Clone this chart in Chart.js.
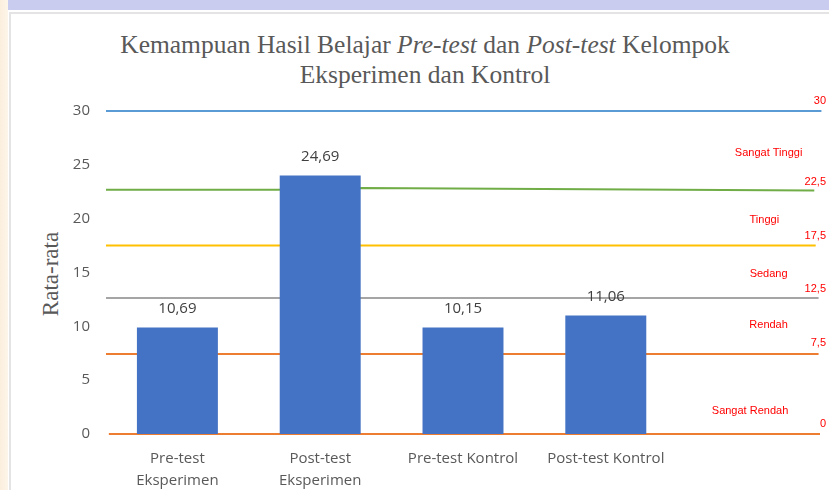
<!DOCTYPE html>
<html>
<head>
<meta charset="utf-8">
<script src="https://cdn.jsdelivr.net/npm/chart.js@4.4.1/dist/chart.umd.min.js"></script>
<style>
  html, body { margin:0; padding:0; }
  body { width:829px; height:490px; overflow:hidden; position:relative; background:#ffffff; }
  #topstrip { position:absolute; left:0; top:0; width:829px; height:10px; background:#c9ccef; }
  #leftstrip { position:absolute; left:0; top:0; width:8px; height:490px; background:linear-gradient(90deg,#fbeedd,#fdf5ea); }
  #frame { position:absolute; left:9px; top:12px; width:830px; height:490px; border-left:2px solid #e4e4e4; border-top:2px solid #e4e4e4; background:#fff; }
  #title { position:absolute; left:0; top:30px; width:850px; text-align:center; font-family:'Liberation Serif','DejaVu Serif',serif; font-size:25.5px; line-height:30px; color:#595959; }
  #ytitle { position:absolute; left:51px; top:274px; transform:translate(-50%,-50%) rotate(-90deg); font-family:'Liberation Serif',serif; font-size:23px; color:#595959; white-space:nowrap; }
  #wrap { position:absolute; left:0; top:0; width:829px; height:490px; }
</style>
</head>
<body>
<div id="topstrip"></div>
<div id="leftstrip"></div>
<div id="frame"></div>
<div id="title">Kemampuan Hasil Belajar <i>Pre-test</i> dan <i>Post-test</i> Kelompok<br>Eksperimen dan Kontrol</div>
<div id="ytitle">Rata-rata</div>
<div id="wrap"><canvas id="c" width="829" height="490"></canvas></div>
<script>
// ---- data ----
const categories = [["Pre-test", "Eksperimen"], ["Post-test", "Eksperimen"], "Pre-test Kontrol", "Post-test Kontrol", ""];
const barValues = [9.9, 24, 9.9, 11];
const barLabels = ["10,69", "24,69", "10,15", "11,06"];
const yTicks = [0, 5, 10, 15, 20, 25, 30];

// horizontal criteria lines (x in category units, 0..5)
const blueX = [0, 5.01];      const blueY = [30, 30];
const greenX = [0, 1.2, 1.8, 4.96]; const greenY = [22.68, 22.68, 22.84, 22.62];
const yellowX = [0, 4.97];    const yellowY = [17.51, 17.51];
const grayX = [0, 4.99];      const grayY = [12.63, 12.63];
const orange1X = [0, 4.99];   const orange1Y = [7.43, 7.43];
const orange0X = [0.02, 5.0]; const orange0Y = [0, 0];

const boundaryLabels = ["30", "22,5", "17,5", "12,5", "7,5", "0"];
const boundaryValues = [30, 22.5, 17.5, 12.5, 7.5, 0];
const zoneLabels = ["Sangat Tinggi", "Tinggi", "Sedang", "Rendah", "Sangat Rendah"];
const zoneLabelValues = [26.12, 19.9, 14.9, 10.1, 2.17];

// ---- styling ----
const zoneLabelXs = [4.64, 4.61, 4.64, 4.64, 4.51];
const sansFont = "'Open Sans','Liberation Sans',sans-serif";

function pts(xs, ys) { return xs.map((x, i) => ({ x: x, y: ys[i] })); }
function lineDs(xs, ys, color) {
  return { type: 'line', data: pts(xs, ys), xAxisID: 'x2', borderColor: color, borderWidth: 2,
           pointRadius: 0, fill: false, tension: 0, order: 2, clip: false };
}

const labelPlugin = {
  id: 'labels',
  afterDatasetsDraw(chart) {
    const ctx = chart.ctx;
    const y = chart.scales.y, x2 = chart.scales.x2;
    const meta = chart.getDatasetMeta(0);
    ctx.save();
    ctx.font = "15px " + sansFont;
    ctx.fillStyle = '#404040';
    ctx.textAlign = 'center';
    ctx.textBaseline = 'alphabetic';
    meta.data.forEach((bar, i) => {
      ctx.fillText(barLabels[i], bar.x, bar.y - 14.5);
    });
    ctx.font = "11px 'Liberation Sans',sans-serif";
    ctx.fillStyle = '#ff0000';
    ctx.textAlign = 'right';
    boundaryLabels.forEach((t, i) => {
      ctx.fillText(t, chart.chartArea.right + 6, y.getPixelForValue(boundaryValues[i]) - 7);
    });
    ctx.textAlign = 'center';
    ctx.textBaseline = 'middle';
    zoneLabels.forEach((t, i) => {
      ctx.fillText(t, x2.getPixelForValue(zoneLabelXs[i]), y.getPixelForValue(zoneLabelValues[i]));
    });
    ctx.restore();
  }
};

new Chart(document.getElementById('c'), {
  type: 'bar',
  data: {
    labels: categories,
    datasets: [
      { type: 'bar', data: barValues, backgroundColor: '#4472c4', borderWidth: 0, grouped: false,
        barPercentage: 0.567, categoryPercentage: 1.0, order: 1, xAxisID: 'x' },
      lineDs(blueX, blueY, '#5b9bd5'),
      lineDs(greenX, greenY, '#70ad47'),
      lineDs(yellowX, yellowY, '#ffc000'),
      lineDs(grayX, grayY, '#a5a5a5'),
      lineDs(orange1X, orange1Y, '#ed7d31'),
      lineDs(orange0X, orange0Y, '#ed7d31')
    ]
  },
  options: {
    responsive: false,
    animation: false,
    layout: { padding: { top: 111, right: 9, bottom: 0, left: 0 } },
    plugins: { legend: { display: false }, tooltip: { enabled: false }, title: { display: false } },
    scales: {
      x: {
        type: 'category', offset: true,
        grid: { display: false, drawTicks: false }, border: { display: false },
        ticks: { color: '#595959', font: { size: 15, family: sansFont, lineHeight: 1.45 }, padding: 14, maxRotation: 0, autoSkip: false },
        afterFit(s) { s.height = 56; }
      },
      x2: { type: 'linear', min: 0, max: 5, display: false, offset: false, grid: { offset: false } },
      y: {
        min: 0, max: 30,
        afterBuildTicks(s) { s.ticks = yTicks.map(v => ({ value: v })); },
        grid: { display: false, drawTicks: false }, border: { display: false },
        ticks: { color: '#595959', font: { size: 15, family: sansFont }, padding: 16 },
        afterFit(s) { s.width = 106; }
      }
    }
  },
  plugins: [labelPlugin]
});
</script>
</body>
</html>
